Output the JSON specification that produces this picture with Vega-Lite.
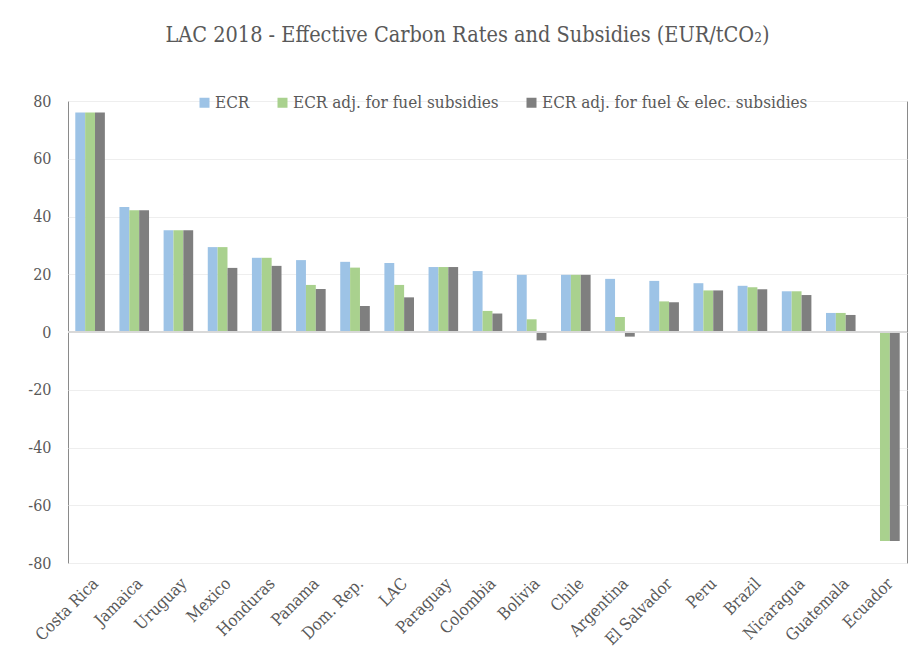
{
  "$schema": "https://vega.github.io/schema/vega-lite/v6.json",
  "width": 839,
  "height": 462,
  "autosize": {"type": "none"},
  "padding": {"left": 68, "top": 101, "right": 13, "bottom": 104},
  "background": "white",
  "title": {
    "text": "LAC 2018 - Effective Carbon Rates and Subsidies (EUR/tCO₂)",
    "font": "DejaVu Serif Condensed, Liberation Serif",
    "fontSize": 21.5,
    "fontWeight": "normal",
    "color": "#595959",
    "anchor": "middle",
    "offset": 47,
    "dx": -20
  },
  "config": {
    "view": {"stroke": "#8a8a8a", "strokeWidth": 1}
  },
  "data": {
    "values": [
      {"country": "Costa Rica", "series": "ECR", "value": 76},
      {"country": "Costa Rica", "series": "ECR adj. for fuel subsidies", "value": 76},
      {"country": "Costa Rica", "series": "ECR adj. for fuel & elec. subsidies", "value": 76},
      {"country": "Jamaica", "series": "ECR", "value": 43.3},
      {"country": "Jamaica", "series": "ECR adj. for fuel subsidies", "value": 42.2},
      {"country": "Jamaica", "series": "ECR adj. for fuel & elec. subsidies", "value": 42.2},
      {"country": "Uruguay", "series": "ECR", "value": 35.2},
      {"country": "Uruguay", "series": "ECR adj. for fuel subsidies", "value": 35.2},
      {"country": "Uruguay", "series": "ECR adj. for fuel & elec. subsidies", "value": 35.2},
      {"country": "Mexico", "series": "ECR", "value": 29.4},
      {"country": "Mexico", "series": "ECR adj. for fuel subsidies", "value": 29.4},
      {"country": "Mexico", "series": "ECR adj. for fuel & elec. subsidies", "value": 22.2},
      {"country": "Honduras", "series": "ECR", "value": 25.7},
      {"country": "Honduras", "series": "ECR adj. for fuel subsidies", "value": 25.7},
      {"country": "Honduras", "series": "ECR adj. for fuel & elec. subsidies", "value": 22.9},
      {"country": "Panama", "series": "ECR", "value": 24.9},
      {"country": "Panama", "series": "ECR adj. for fuel subsidies", "value": 16.3},
      {"country": "Panama", "series": "ECR adj. for fuel & elec. subsidies", "value": 14.9},
      {"country": "Dom. Rep.", "series": "ECR", "value": 24.3},
      {"country": "Dom. Rep.", "series": "ECR adj. for fuel subsidies", "value": 22.3},
      {"country": "Dom. Rep.", "series": "ECR adj. for fuel & elec. subsidies", "value": 9.0},
      {"country": "LAC", "series": "ECR", "value": 23.9},
      {"country": "LAC", "series": "ECR adj. for fuel subsidies", "value": 16.3},
      {"country": "LAC", "series": "ECR adj. for fuel & elec. subsidies", "value": 12.0},
      {"country": "Paraguay", "series": "ECR", "value": 22.5},
      {"country": "Paraguay", "series": "ECR adj. for fuel subsidies", "value": 22.5},
      {"country": "Paraguay", "series": "ECR adj. for fuel & elec. subsidies", "value": 22.5},
      {"country": "Colombia", "series": "ECR", "value": 21.1},
      {"country": "Colombia", "series": "ECR adj. for fuel subsidies", "value": 7.3},
      {"country": "Colombia", "series": "ECR adj. for fuel & elec. subsidies", "value": 6.4},
      {"country": "Bolivia", "series": "ECR", "value": 19.8},
      {"country": "Bolivia", "series": "ECR adj. for fuel subsidies", "value": 4.4},
      {"country": "Bolivia", "series": "ECR adj. for fuel & elec. subsidies", "value": -2.9},
      {"country": "Chile", "series": "ECR", "value": 19.8},
      {"country": "Chile", "series": "ECR adj. for fuel subsidies", "value": 19.8},
      {"country": "Chile", "series": "ECR adj. for fuel & elec. subsidies", "value": 19.8},
      {"country": "Argentina", "series": "ECR", "value": 18.4},
      {"country": "Argentina", "series": "ECR adj. for fuel subsidies", "value": 5.2},
      {"country": "Argentina", "series": "ECR adj. for fuel & elec. subsidies", "value": -1.6},
      {"country": "El Salvador", "series": "ECR", "value": 17.7},
      {"country": "El Salvador", "series": "ECR adj. for fuel subsidies", "value": 10.6},
      {"country": "El Salvador", "series": "ECR adj. for fuel & elec. subsidies", "value": 10.3},
      {"country": "Peru", "series": "ECR", "value": 16.9},
      {"country": "Peru", "series": "ECR adj. for fuel subsidies", "value": 14.4},
      {"country": "Peru", "series": "ECR adj. for fuel & elec. subsidies", "value": 14.4},
      {"country": "Brazil", "series": "ECR", "value": 16.0},
      {"country": "Brazil", "series": "ECR adj. for fuel subsidies", "value": 15.5},
      {"country": "Brazil", "series": "ECR adj. for fuel & elec. subsidies", "value": 14.8},
      {"country": "Nicaragua", "series": "ECR", "value": 14.1},
      {"country": "Nicaragua", "series": "ECR adj. for fuel subsidies", "value": 14.1},
      {"country": "Nicaragua", "series": "ECR adj. for fuel & elec. subsidies", "value": 12.8},
      {"country": "Guatemala", "series": "ECR", "value": 6.6},
      {"country": "Guatemala", "series": "ECR adj. for fuel subsidies", "value": 6.6},
      {"country": "Guatemala", "series": "ECR adj. for fuel & elec. subsidies", "value": 5.9},
      {"country": "Ecuador", "series": "ECR", "value": 0},
      {"country": "Ecuador", "series": "ECR adj. for fuel subsidies", "value": -72.4},
      {"country": "Ecuador", "series": "ECR adj. for fuel & elec. subsidies", "value": -72.4}
    ]
  },
  "layer": [
    {
      "mark": {"type": "bar"},
      "encoding": {
        "x": {
          "field": "country",
          "type": "nominal",
          "sort": null,
          "scale": {"paddingInner": 0.33, "paddingOuter": 0.165},
          "axis": {
            "title": null,
            "labelAngle": -45,
            "domain": false,
            "ticks": false,
            "grid": false,
            "labelPadding": 12,
            "labelFont": "DejaVu Serif Condensed, Liberation Serif",
            "labelFontSize": 16.5,
            "labelColor": "#595959"
          }
        },
        "xOffset": {
          "field": "series",
          "type": "nominal",
          "sort": ["ECR", "ECR adj. for fuel subsidies", "ECR adj. for fuel & elec. subsidies"]
        },
        "y": {
          "field": "value",
          "type": "quantitative",
          "scale": {"domain": [-80, 80], "nice": false},
          "axis": {
            "title": null,
            "values": [-80, -60, -40, -20, 0, 20, 40, 60, 80],
            "labelExpr": "'' + datum.value",
            "domain": false,
            "ticks": false,
            "labelPadding": 17,
            "labelFont": "DejaVu Serif Condensed, Liberation Serif",
            "labelFontSize": 16,
            "labelColor": "#595959",
            "gridColor": "#eeeeee",
            "gridWidth": 1
          }
        },
        "color": {
          "field": "series",
          "type": "nominal",
          "sort": ["ECR", "ECR adj. for fuel subsidies", "ECR adj. for fuel & elec. subsidies"],
          "scale": {"range": ["#9dc3e6", "#a9d18e", "#7f7f7f"]},
          "legend": {
            "title": null,
            "orient": "none",
            "direction": "horizontal",
            "legendX": 128,
            "legendY": -7,
            "symbolType": "square",
            "symbolSize": 100,
            "symbolStrokeWidth": 0,
            "labelFont": "DejaVu Serif Condensed, Liberation Serif",
            "labelFontSize": 17,
            "labelLimit": 0,
            "labelColor": "#595959",
            "labelOffset": 2,
            "columnPadding": 24
          }
        }
      }
    },
    {
      "mark": {"type": "rule", "color": "#d9d9d9", "strokeWidth": 1.5},
      "encoding": {"y": {"datum": 0}}
    }
  ]
}
